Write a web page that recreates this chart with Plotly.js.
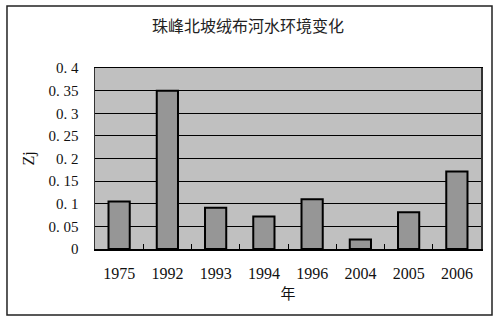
<!DOCTYPE html>
<html><head><meta charset="utf-8">
<script src="https://cdn.plot.ly/plotly-3.0.1.min.js"></script>
<style>html,body{margin:0;padding:0;background:#fff;}#c{width:500px;height:329px;}</style>
</head><body><div id="c"></div>
<script>
var years = ['1975','1992','1993','1994','1996','2004','2005','2006'];
var zj = [0.105, 0.35, 0.091, 0.072, 0.11, 0.021, 0.081, 0.171];
var yTickVals = [0, 0.05, 0.1, 0.15, 0.2, 0.25, 0.3, 0.35, 0.4];
var yTickText = ['0', '0. 05', '0. 1', '0. 15', '0. 2', '0. 25', '0. 3', '0. 35', '0. 4'];
var titleText = '珠峰北坡绒布河水环境变化';
var xTitle = '年';
var yTitle = 'Zj';

var serif = '"Liberation Serif", "DejaVu Serif", serif';
var cjk = '"Noto Sans CJK SC", sans-serif';

Plotly.newPlot('c', [{
  type: 'bar', x: years, y: zj, width: 0.44,
  marker: {color: '#969696', line: {color: '#000', width: 2}},
  hoverinfo: 'none'
}], {
  width: 500, height: 329,
  margin: {l: 95, r: 19, t: 68, b: 80},
  paper_bgcolor: '#fff', plot_bgcolor: '#c0c0c0',
  showlegend: false,
  title: {text: titleText, font: {family: cjk, size: 16, color: '#222'}, x: 0.496, xanchor: 'center', y: 0.92, yanchor: 'middle'},
  xaxis: {
    type: 'category', tickson: 'boundaries', ticks: 'inside', ticklen: 5, tickcolor: '#000', tickwidth: 1,
    showline: true, linecolor: '#000', linewidth: 1.5, mirror: true,
    tickfont: {family: serif, size: 16, color: '#111'}, ticklabelstandoff: 9,
    title: {text: xTitle, font: {family: cjk, size: 15, color: '#111'}, standoff: 8},
    showgrid: false, fixedrange: true
  },
  yaxis: {
    range: [0, 0.4], tickvals: yTickVals, ticktext: yTickText,
    ticks: '', showline: true, linecolor: '#333', linewidth: 1.5, mirror: true,
    showgrid: true, gridcolor: '#000', gridwidth: 1, zeroline: false,
    tickfont: {family: serif, size: 15, color: '#111'}, ticklabelstandoff: 12,
    title: {text: yTitle, font: {family: serif, size: 16, color: '#111'}, standoff: 10},
    fixedrange: true
  },
  shapes: [{type: 'rect', xref: 'paper', yref: 'paper', x0: -0.228, x1: 1.0285, y0: -0.3646, y1: 1.3425,
    line: {color: '#222', width: 1.5}, fillcolor: 'rgba(0,0,0,0)', layer: 'below'}]
}, {staticPlot: true});
</script></body></html>
